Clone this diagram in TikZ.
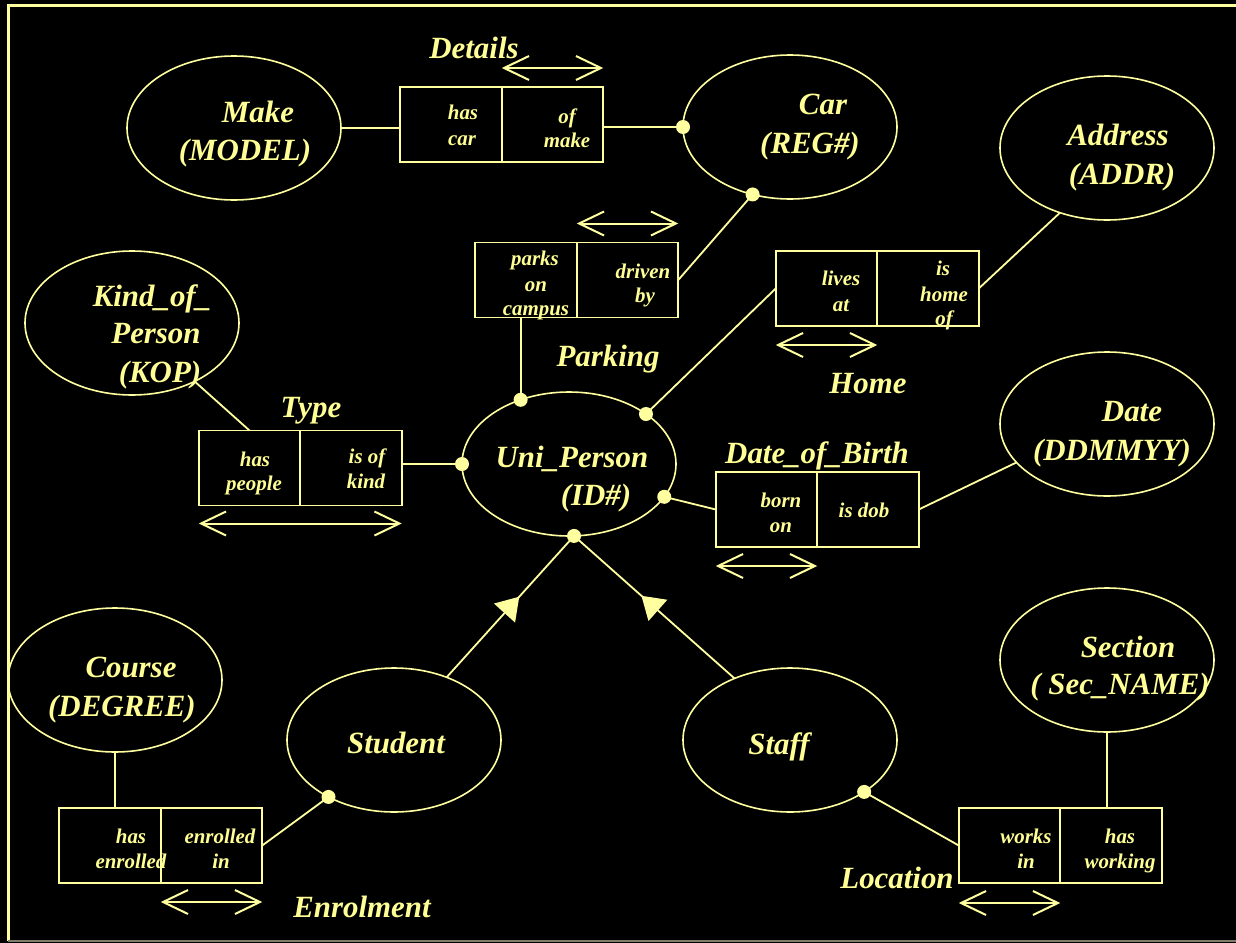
\documentclass[tikz,border=0pt]{standalone}
\usepackage{fontspec}
\setmainfont{Liberation Serif}
\usetikzlibrary{shapes.geometric,arrows.meta,decorations.markings,calc}
\definecolor{ink}{RGB}{255,255,160}
\definecolor{txt}{RGB}{255,255,150}
\definecolor{rim}{RGB}{125,125,105}

\begin{document}
\begin{tikzpicture}[x=1bp,y=-1bp,
  every node/.style={inner sep=0pt, outer sep=0pt},
  ent/.style={ellipse, draw=ink, line width=1.6bp, minimum width=214bp, minimum height=144bp},
  relbox/.style={rectangle, draw=ink, line width=1.8bp, minimum width=101.5bp, minimum height=75bp},
  big/.style={text=txt, anchor=base, font=\fontsize{31}{38}\selectfont\bfseries\itshape},
  small/.style={text=txt, anchor=base, font=\fontsize{21}{25}\selectfont\bfseries\itshape},
  link/.style={draw=ink, line width=1.8bp},
  dot/.style={circle, fill=ink, minimum size=14bp},
  dblarrow/.style={draw=ink, line width=2bp,
    {Straight Barb[length=25bp,width=24bp]}-{Straight Barb[length=25bp,width=24bp]}},
  isa/.style={link, postaction={decorate}, decoration={markings,
    mark=at position #1 with {\arrow[fill=ink,draw=ink]{Triangle[length=22bp,width=28bp]}}}},
]
% canvas
\fill[black] (0,0) rectangle (1236,943);
\useasboundingbox (0,0) rectangle (1236,943);
\draw[ink, line width=3bp] (1240,5) -- (8,5) -- (8,941);
\draw[rim, line width=2bp] (8,941) -- (1240,941);

% entities
\node[ent] (make)    at (234,128)  {};
\node[ent] (car)     at (790,127)  {};
\node[ent] (addr)    at (1107,148) {};
\node[ent] (kop)     at (132,323)  {};
\node[ent] (uni)     at (569,464)  {};
\node[ent] (date)    at (1107,424) {};
\node[ent] (course)  at (115,680)  {};
\node[ent] (student) at (394,740)  {};
\node[ent] (staff)   at (790,740)  {};
\node[ent] (section) at (1107,660) {};

% relationship boxes (two halves each)
\node[relbox] (detL) at (451,124.5) {};
\node[relbox, anchor=west] (detR) at (detL.east) {};
\node[relbox] (parkL) at (526,280) {};
\node[relbox, anchor=west] (parkR) at (parkL.east) {};
\node[relbox] (homeL) at (826.5,288.5) {};
\node[relbox, anchor=west] (homeR) at (homeL.east) {};
\node[relbox] (typeL) at (249.5,468) {};
\node[relbox, anchor=west] (typeR) at (typeL.east) {};
\node[relbox] (dobL) at (766.5,509.5) {};
\node[relbox, anchor=west] (dobR) at (dobL.east) {};
\node[relbox] (enrolL) at (110,845.5) {};
\node[relbox, anchor=west] (enrolR) at (enrolL.east) {};
\node[relbox] (locL) at (1009.5,845.5) {};
\node[relbox, anchor=west] (locR) at (locL.east) {};

% connectors
\draw[link] (make.east) -- (make.east -| detL.west);
\draw[link] (detR.east |- car.west) -- (car.west);
\draw[link] (parkR.east) -- (car.-119);
\draw[link] (parkL.south -| uni.127) -- (uni.127);
\draw[link] (uni.33) -- (homeL.west);
\draw[link] (homeR.east) -- (addr.234);
\draw[link] (kop.-43) -- (typeL.north);
\draw[link] (typeR.east |- uni.west) -- (uni.west);
\draw[link] (uni.-19) -- (dobL.west);
\draw[link] (dobR.east) -- (date.203);
\draw[link] (course.south) -- (course.south |- enrolL.north);
\draw[link] (enrolR.east) -- (student.221);
\draw[link] (staff.-35) -- (locL.west);
\draw[link] (section.south) -- (section.south |- locR.north);
\draw[isa=0.57] (student.50) -- (uni.-86);
\draw[isa=0.58] (staff.132) -- (uni.-86);

% attachment dots
\node[dot] (d1) at (car.west) {};
\node[dot] (d2) at (car.-119) {};
\node[dot] (d3) at (uni.127) {};
\node[dot] (d4) at (uni.33) {};
\node[dot] (d5) at (uni.west) {};
\node[dot] (d6) at (uni.-19) {};
\node[dot] (d7) at (uni.-86) {};
\node[dot] (d8) at (student.221) {};
\node[dot] (d9) at (staff.-35) {};

% reading-direction arrows
\draw[dblarrow] ([yshift=19bp]detR.north west) -- ([yshift=19bp]detR.north east);
\draw[dblarrow] ([yshift=19bp]parkR.north west) -- ([yshift=19bp]parkR.north east);
\draw[dblarrow] ([yshift=-19bp]homeL.south west) -- ([yshift=-19bp]homeL.south east);
\draw[dblarrow] ([yshift=-18bp]typeL.south west) -- ([yshift=-18bp]typeR.south east);
\draw[dblarrow] ([yshift=-19bp]dobL.south west) -- ([yshift=-19bp]dobL.south east);
\draw[dblarrow] ([yshift=-19bp]enrolR.south west) -- ([yshift=-19bp]enrolR.south east);
\draw[dblarrow] ([yshift=-20bp]locL.south west) -- ([yshift=-20bp]locL.south east);

% entity labels
\node[big] (tMake) at (258,122) {Make};
\node[big] (tModel) at (245,160) {(MODEL)};
\node[big] (tCar) at (823,114) {Car};
\node[big] (tReg) at (810,153) {(REG\#)};
\node[big] (tAddr) at (1118,145) {Address};
\node[big] (tAddrK) at (1122,184) {(ADDR)};
\node[big] (tKop1) at (152,306) {Kind\_of\_};
\node[big] (tKop2) at (156,343) {Person};
\node[big] (tKop3) at (160,382) {(KOP)};
\node[big] (tUni) at (572,467) {Uni\_Person};
\node[big] (tId) at (596,505) {(ID\#)};
\node[big] (tDate) at (1132,421) {Date};
\node[big] (tDdm) at (1112,460) {(DDMMYY)};
\node[big] (tCourse) at (131,677) {Course};
\node[big] (tDeg) at (122,716) {(DEGREE)};
\node[big] (tStudent) at (396,753) {Student};
\node[big] (tStaff) at (779,754) {Staff};
\node[big] (tSect) at (1128,657) {Section};
\node[big] (tSecN) at (1120,694) {( Sec\_NAME)};

% relationship names
\node[big] (rDet) at (474,58) {Details};
\node[big] (rPark) at (608,366) {Parking};
\node[big] (rHome) at (868,393) {Home};
\node[big] (rType) at (311,417) {Type};
\node[big] (rDob) at (817,463) {Date\_of\_Birth};
\node[big] (rEnrol) at (362,917) {Enrolment};
\node[big] (rLoc) at (897,888) {Location};

% role texts
\node[small] (s1) at (463,119) {has};
\node[small] (s2) at (462,145) {car};
\node[small] (s3) at (567,123) {of};
\node[small] (s4) at (567,147) {make};
\node[small] (s5) at (535,265) {parks};
\node[small] (s6) at (536,291) {on};
\node[small] (s7) at (536,315) {campus};
\node[small] (s8) at (643,278) {driven};
\node[small] (s9) at (645,302) {by};
\node[small] (s10) at (841,285) {lives};
\node[small] (s11) at (841,311) {at};
\node[small] (s12) at (943,275) {is};
\node[small] (s13) at (944,301) {home};
\node[small] (s14) at (944,325) {of};
\node[small] (s15) at (255,466) {has};
\node[small] (s16) at (254,490) {people};
\node[small] (s17) at (367,463) {is of};
\node[small] (s18) at (366,488) {kind};
\node[small] (s19) at (781,507) {born};
\node[small] (s20) at (781,532) {on};
\node[small] (s21) at (864,517) {is dob};
\node[small] (s22) at (131,843) {has};
\node[small] (s23) at (131,868) {enrolled};
\node[small] (s24) at (220,843) {enrolled};
\node[small] (s25) at (221,868) {in};
\node[small] (s26) at (1026,843) {works};
\node[small] (s27) at (1026,868) {in};
\node[small] (s28) at (1120,843) {has};
\node[small] (s29) at (1120,868) {working};
\end{tikzpicture}
\end{document}
